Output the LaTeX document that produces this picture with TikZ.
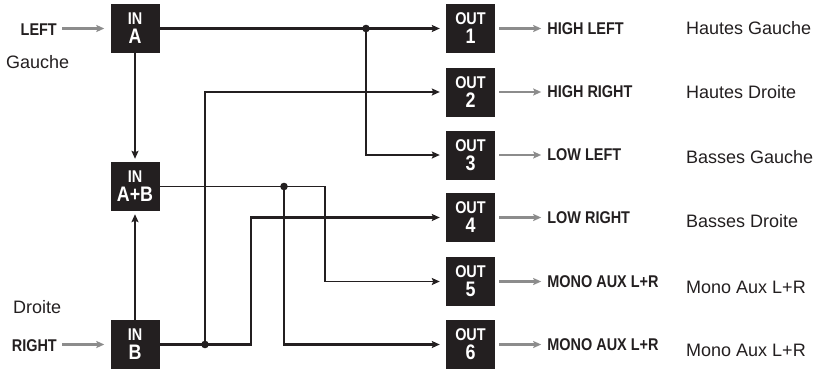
\documentclass[tikz,border=0pt]{standalone}
\usepackage{fontspec}
\setmainfont{Liberation Sans}
\newfontfamily\condsans[FakeStretch=0.85]{Liberation Sans}
\usetikzlibrary{arrows.meta, positioning, calc}

\definecolor{ink}{HTML}{231F20}
\definecolor{feed}{HTML}{8C8C8C}

% two-line label inside a black unit
\newcommand{\boxtext}[2]{{\fontsize{17}{19}\selectfont #1}\\{\fontsize{21}{19}\selectfont #2}}

\begin{document}
\begin{tikzpicture}[
    x=1pt, y=-1pt,
    >={Stealth[length=8pt, width=7pt, inset=1.5pt]},
    unit/.style={fill=ink, text=white, minimum size=49pt, inner sep=0pt, align=center, font=\condsans\bfseries\fontsize{17}{19}\selectfont},
    tag/.style={text=ink, inner sep=0pt, font=\condsans\bfseries\fontsize{17}{19}\selectfont},
    note/.style={text=ink, inner sep=0pt, font=\fontsize{18}{20}\selectfont},
    wire/.style={draw=ink, line width=2.6pt},
    thinwire/.style={draw=ink, line width=1.7pt},
    feedarr/.style={-{Stealth[length=8pt, width=7pt, inset=1.5pt]}, draw=feed, line width=2.6pt}
]
\useasboundingbox (0,0) rectangle (824,372);

% ================= INPUTS =================
\node[unit] (inA)  at (135,28.5)  {\boxtext{IN}{A}};
\node[unit] (inAB) at (135,186.5) {\boxtext{IN}{A+B}};
\node[unit] (inB)  at (135,344.5) {\boxtext{IN}{B}};

\node[tag, anchor=base east]  (left)   at (57,35)  {LEFT};
\node[tag, anchor=base east]  (right)  at (57,351) {RIGHT};
\node[note, anchor=base west] (gauche) at (6,68)   {Gauche};
\node[note, anchor=base west] (droite) at (13,313) {Droite};

\draw[feedarr, shorten <=5pt, shorten >=6pt] (left.east |- inA.west) -- (inA.west);
\draw[feedarr, shorten <=5pt, shorten >=6pt] (right.east |- inB.west) -- (inB.west);

% ================= OUTPUTS =================
\node[unit] (out1) at (470.5,28.5)  {\boxtext{OUT}{1}};
\node[unit] (out2) at (470.5,92)    {\boxtext{OUT}{2}};
\node[unit] (out3) at (470.5,155)   {\boxtext{OUT}{3}};
\node[unit] (out4) at (470.5,217.5) {\boxtext{OUT}{4}};
\node[unit] (out5) at (470.5,281.5) {\boxtext{OUT}{5}};
\node[unit] (out6) at (470.5,344.5) {\boxtext{OUT}{6}};

\node[tag, right=52pt of out1] (highleft)  {HIGH LEFT};
\node[tag, right=52pt of out2] (highright) {HIGH RIGHT};
\node[tag, right=52pt of out3] (lowleft)   {LOW LEFT};
\node[tag, right=52pt of out4] (lowright)  {LOW RIGHT};
\node[tag, right=52pt of out5] (monofive)  {MONO AUX L+R};
\node[tag, right=52pt of out6] (monosix)   {MONO AUX L+R};

\draw[feedarr, shorten <=4pt, shorten >=6pt] (out1.east) -- (highleft.west);
\draw[feedarr, shorten <=4pt, shorten >=6pt] (out2.east) -- (highright.west);
\draw[feedarr, shorten <=4pt, shorten >=6pt] (out3.east) -- (lowleft.west);
\draw[feedarr, shorten <=4pt, shorten >=6pt] (out4.east) -- (lowright.west);
\draw[feedarr, shorten <=4pt, shorten >=6pt] (out5.east) -- (monofive.west);
\draw[feedarr, shorten <=4pt, shorten >=6pt] (out6.east) -- (monosix.west);

% French names on the right
\node[note, anchor=base west] (hautesG) at (686,34)  {Hautes Gauche};
\node[note, anchor=base west] (hautesD) at (686,98)  {Hautes Droite};
\node[note, anchor=base west] (bassesG) at (686,163) {Basses Gauche};
\node[note, anchor=base west] (bassesD) at (686,227) {Basses Droite};
\node[note, anchor=base west] (monoG)   at (686,293) {Mono Aux L+R};
\node[note, anchor=base west] (monoD)   at (686,356) {Mono Aux L+R};

% ================= ROUTING =================
% A and B summed into A+B
\draw[wire, ->, shorten >=3pt] (inA.south) -- (inAB.north);
\draw[wire, ->, shorten >=3pt] (inB.north) -- (inAB.south);

% A feeds OUT 1 and OUT 3
\coordinate (splitA) at (366,28.5);
\draw[wire, ->, shorten >=6pt] (inA.east) -- (out1.west);
\draw[wire, ->, shorten >=6pt] (splitA) |- (out3.west);
\fill[ink] (splitA) circle (3.8pt);

% B feeds OUT 2 and OUT 4
\coordinate (splitB) at (205,344.5);
\coordinate (bendB)  at (251,344.5);
\draw[wire, ->, shorten >=6pt] (inB.east) -- (bendB) |- (out4.west);
\draw[wire, ->, shorten >=6pt] (splitB) |- (out2.west);
\fill[ink] (splitB) circle (3.8pt);

% A+B feeds OUT 5 and OUT 6
\coordinate (splitAB) at (284,186.5);
\coordinate (bendAB)  at (325,186.5);
\draw[thinwire, ->, shorten >=6pt] (inAB.east) -- (bendAB) |- (out5.west);
\draw[wire, ->, shorten >=6pt] (splitAB) |- (out6.west);
\fill[ink] (splitAB) circle (3.8pt);

\end{tikzpicture}
\end{document}
